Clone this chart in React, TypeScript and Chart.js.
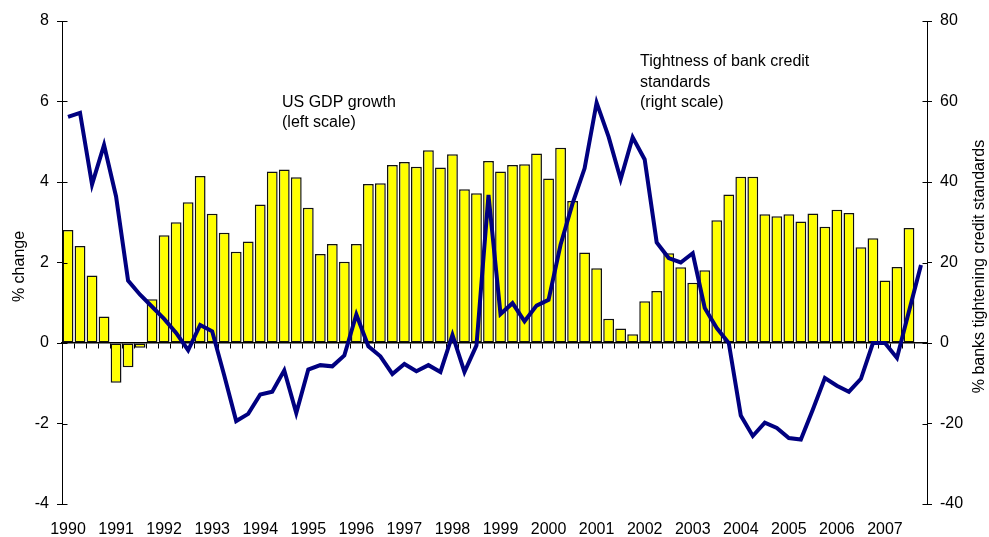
import React, { useEffect, useRef } from "react";
import { Chart, registerables } from "chart.js";

Chart.register(...registerables);

const years: number[] = [1990, 1991, 1992, 1993, 1994, 1995, 1996, 1997, 1998, 1999, 2000, 2001, 2002, 2003, 2004, 2005, 2006, 2007];
const quarters: string[] = ["Q1", "Q2", "Q3", "Q4"];
const categories: string[] = years.flatMap((y) => quarters.map((q) => `${y} ${q}`));

// US GDP growth, % change (left scale)
const gdpGrowth: (number | null)[] = [
  2.81, 2.41, 1.68, 0.66,
  -0.99, -0.6, -0.12, 1.09,
  2.68, 3.0, 3.5, 4.15,
  3.21, 2.74, 2.27, 2.52,
  3.44, 4.26, 4.31, 4.12,
  3.36, 2.21, 2.46, 2.02,
  2.46, 3.95, 3.97, 4.42,
  4.5, 4.38, 4.79, 4.36,
  4.69, 3.82, 3.72, 4.52,
  4.26, 4.42, 4.44, 4.71,
  4.09, 4.85, 3.53, 2.25,
  1.86, 0.6, 0.36, 0.22,
  1.04, 1.29, 2.23, 1.88,
  1.5, 1.81, 3.05, 3.69,
  4.13, 4.13, 3.2, 3.15,
  3.2, 3.02, 3.22, 2.89,
  3.31, 3.23, 2.38, 2.6,
  1.55, 1.89, 2.86, null,
];

// Tightness of bank credit standards, % banks tightening (right scale)
const tightness: number[] = [
  56.2, 57.2, 39.4, 49.2,
  36.4, 15.5, 12.0, 9.0,
  6.0, 2.5, -1.8, 4.5,
  2.9, -8.0, -19.4, -17.6,
  -12.8, -12.1, -6.8, -17.4,
  -6.6, -5.5, -5.8, -3.1,
  7.1, -0.8, -3.3, -7.7,
  -5.2, -7.0, -5.5, -7.2,
  2.0, -7.2, -0.6, 36.8,
  7.2, 9.9, 5.4, 9.3,
  10.7, 24.4, 34.7, 43.4,
  59.7, 51.2, 40.7, 51.1,
  45.6, 25.0, 21.1, 20.0,
  22.3, 8.7, 3.7, 0.0,
  -18.0, -23.1, -19.8, -21.1,
  -23.6, -24.0, -16.5, -8.7,
  -10.6, -12.1, -8.9, 0.0,
  0.0, -3.7, 7.9, 19.4,
];

const leftTitle = "% change";
const rightTitle = "% banks tightening credit standards";
const gdpNote: string[] = ["US GDP growth", "(left scale)"];
const tightNote: string[] = ["Tightness of bank credit", "standards", "(right scale)"];

const FONT = "'Liberation Sans', Arial, sans-serif";

const overlay = {
  id: "overlay",
  afterDraw(chart: any) {
    const ctx: CanvasRenderingContext2D = chart.ctx;
    const { top, bottom } = chart.chartArea;
    ctx.save();
    ctx.strokeStyle = "#000";
    ctx.lineWidth = 1;
    // inner tick marks on both value axes
    (["y", "y2"] as const).forEach((id) => {
      const s = chart.scales[id];
      const x = id === "y" ? Math.round(s.right) + 0.5 : Math.round(s.left) + 0.5;
      const dir = id === "y" ? 1 : -1;
      s.ticks.forEach((_t: any, i: number) => {
        const py = Math.round(s.getPixelForTick(i)) + 0.5;
        ctx.beginPath();
        ctx.moveTo(x, py);
        ctx.lineTo(x + dir * 5, py);
        ctx.stroke();
      });
    });
    ctx.fillStyle = "#000";
    ctx.font = `16px ${FONT}`;
    // axis titles (both read bottom to top)
    const midY = (top + bottom) / 2 + 4;
    ctx.textAlign = "center";
    ctx.textBaseline = "middle";
    ctx.save();
    ctx.translate(20, midY);
    ctx.rotate(-Math.PI / 2);
    ctx.fillText(leftTitle, 0, 0);
    ctx.restore();
    ctx.save();
    ctx.translate(980, midY);
    ctx.rotate(-Math.PI / 2);
    ctx.fillText(rightTitle, 0, 0);
    ctx.restore();
    // annotations
    ctx.textAlign = "left";
    ctx.textBaseline = "alphabetic";
    gdpNote.forEach((t, i) => ctx.fillText(t, 282, 107 + i * 20));
    tightNote.forEach((t, i) => ctx.fillText(t, 640, 66 + i * 20.5));
    ctx.restore();
  },
};

export default function App() {
  const ref = useRef<HTMLCanvasElement | null>(null);
  useEffect(() => {
    if (!ref.current) return;
    Chart.defaults.font.family = FONT;
    Chart.defaults.font.size = 16;
    Chart.defaults.color = "#000";
    const chart = new Chart(ref.current, {
      type: "bar",
      data: {
        labels: categories,
        datasets: [
          {
            type: "line",
            label: "Tightness of bank credit standards",
            data: tightness,
            yAxisID: "y2",
            xAxisID: "x",
            borderColor: "#000080",
            borderWidth: 4,
            pointRadius: 0,
            tension: 0,
            fill: false,
            order: 0,
          } as any,
          {
            type: "bar",
            label: "US GDP growth",
            data: gdpGrowth,
            yAxisID: "y",
            xAxisID: "x",
            backgroundColor: "#FFFF00",
            borderColor: "#111",
            borderWidth: 1.5,
            borderSkipped: false,
            categoryPercentage: 1,
            barPercentage: 0.9,
            order: 1,
          } as any,
        ],
      },
      options: {
        animation: false,
        responsive: true,
        maintainAspectRatio: false,
        layout: { padding: { top: 21, left: 0, right: 0, bottom: 0 } },
        plugins: { legend: { display: false }, tooltip: { enabled: false } },
        scales: {
          x: {
            type: "category",
            position: { y: 0 } as any,
            offset: true,
            grid: { display: true, drawOnChartArea: false, drawTicks: true, tickLength: 5, offset: true, color: "#000", lineWidth: 1 },
            border: { display: true, color: "#000", width: 1.5 },
            ticks: { display: false },
          },
          x2: {
            type: "category",
            position: "bottom",
            offset: true,
            grid: { display: false, offset: true },
            border: { display: false },
            ticks: {
              autoSkip: false,
              maxRotation: 0,
              minRotation: 0,
              padding: 8,
              font: { size: 16 },
              callback: (_v: any, i: number) => (i % 4 === 0 ? String(years[i / 4]) : ""),
            },
            afterFit: (s: any) => {
              s.height = 33;
            },
          },
          y: {
            type: "linear",
            position: "left",
            min: -4,
            max: 8,
            ticks: { stepSize: 2, padding: 8, font: { size: 16 } },
            grid: { display: true, drawOnChartArea: false, drawTicks: true, tickLength: 5, color: "#000" },
            border: { display: true, color: "#000", width: 1 },
            afterFit: (s: any) => {
              s.width = 62;
            },
          },
          y2: {
            type: "linear",
            position: "right",
            min: -40,
            max: 80,
            ticks: { stepSize: 20, padding: 8, font: { size: 16 } },
            grid: { display: true, drawOnChartArea: false, drawTicks: true, tickLength: 5, color: "#000" },
            border: { display: true, color: "#000", width: 1 },
            afterFit: (s: any) => {
              s.width = 62;
            },
          },
        },
      },
      plugins: [overlay],
    });
    return () => chart.destroy();
  }, []);
  return (
    <div style={{ position: "fixed", left: 0, top: 0, width: 989, height: 537, background: "#fff" }}>
      <canvas ref={ref} style={{ display: "block" }} />
    </div>
  );
}
